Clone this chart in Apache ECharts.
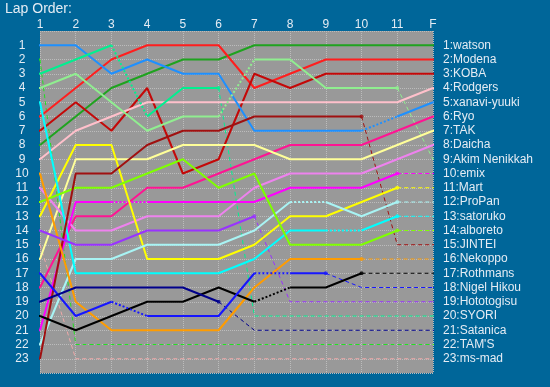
<!DOCTYPE html>
<html><head><meta charset="utf-8">
<script src="https://cdn.jsdelivr.net/npm/echarts@6/dist/echarts.min.js"></script>
<style>html,body{margin:0;padding:0;background:#006699}#c{width:550px;height:387px}</style>
</head><body><div id="c"></div>
<script>
// ---- data ----
const lapLabels = ['1','2','3','4','5','6','7','8','9','10','11','F'];
const drivers = ['watson','Modena','KOBA','Rodgers','xanavi-yuuki','Ryo','TAK','Daicha','Akim Nenikkah','emix','Mart','ProPan','satoruko','alboreto','JINTEI','Nekoppo','Rothmans','Nigel Hikou','Hototogisu','SYORI','Satanica',"TAM'S",'ms-mad'];
const colors = ['#1fa31f','#ff1e1e','#c40808','#ffc0cb','#1e90ff','#ff1493','#ffff99','#ee82ee','#90ee90','#ff00ff','#ffff00','#a8f4f4','#00ffff','#7fff00','#a01010','#ff9c00','#000000','#1616ff','#9933ff','#00f090','#00008c','#22e022','#f0a8a8'];
// position at laps 1..11 and F
const positions = [
  [8,6,4,3,2,2,1,1,1,1,1,1],
  [6,4,2,1,1,1,4,3,2,2,2,2],
  [7,5,7,4,10,9,3,4,3,3,3,3],
  [9,7,6,5,5,5,5,5,5,5,5,4],
  [1,1,3,2,3,3,7,7,7,7,6,5],
  [18,13,13,11,11,10,9,8,8,8,7,6],
  [16,9,9,9,8,8,8,9,9,9,8,7],
  [11,14,14,13,13,13,11,10,10,10,9,8],
  [4,3,5,7,6,6,2,2,4,4,4,9],
  [21,12,12,12,12,12,12,11,11,11,10,10],
  [13,8,8,16,16,16,15,13,13,12,11,11],
  [22,16,16,15,15,15,14,12,12,13,12,12],
  [5,17,17,17,17,17,16,14,14,14,13,13],
  [12,11,11,10,9,11,10,15,15,15,14,14],
  [23,10,10,8,7,7,6,6,6,6,15,15],
  [10,19,21,21,21,21,18,16,16,16,16,16],
  [20,21,20,19,19,18,19,18,18,17,17,17],
  [17,20,19,20,20,20,17,17,17,18,18,18],
  [14,15,15,14,14,14,13,19,19,19,19,19],
  [3,2,1,6,4,4,20,20,20,20,20,20],
  [19,18,18,18,18,19,21,21,21,21,21,21],
  [2,22,22,22,22,22,22,22,22,22,22,22],
  [15,23,23,23,23,23,23,23,23,23,23,23]
];
// segment styles between consecutive laps: s = running, d = pit, x = retired / lapped
const segStyles = [
  'sssssssssss','sssssssssss','sssssssssss','sssssssssss','sssssssssds',
  'sssssssssss','sssssssssss','sssssssssss','sssssdssssx','ssdsssssssx',
  'ssssssssssx','sssssssdssx','ssssssssdsx','ssssssssssx','sssssssssxx',
  'sssssssssxx','ssssssdssxx','ssdsssdsxxx','ssssssxxxxx','ssdssxxxxxx',
  'sssssxxxxxx','xxxxxxxxxxx','xxxxxxxxxxx'
];

// ---- chart ----
const FONT = 'Liberation Sans, Arial, sans-serif';
const TXT = '#e4ecf4';
const STUB_L = 0.83, STUB_R = 12.22;
const styleMap = {s:{width:2,type:'solid'}, d:{width:2,type:[2,2]}, x:{width:1,type:[4,3]}};
const series = [];
const markers = [];
drivers.forEach((name, i) => {
  const pos = positions[i], st = segStyles[i], col = colors[i];
  const mk = (data, s) => ({
    type:'line', data, symbol:'none', clip:false, silent:true, animation:false,
    z: s === 'x' ? 2 : 3,
    lineStyle:{color:col, width:styleMap[s].width, type:styleMap[s].type}
  });
  series.push(mk([[STUB_L, pos[0]], [1, pos[0]]], 's'));
  let start = 0;
  for (let k = 1; k <= st.length; k++) {
    if (k === st.length || st[k] !== st[start]) {
      const data = [];
      for (let j = start; j <= k; j++) data.push([j + 1, pos[j]]);
      series.push(mk(data, st[start]));
      start = k;
    }
  }
  series.push(mk([[12, pos[11]], [STUB_R, pos[11]]], st[st.length - 1]));
  const xi = st.indexOf('x');
  if (xi > 0) markers.push({value:[xi + 1, pos[xi]], itemStyle:{color:col}});
});
series.push({type:'scatter', data:markers, symbol:'circle', symbolSize:4, z:4, silent:true, animation:false});

const finalName = v => {
  const idx = positions.findIndex(p => p[11] === v);
  return idx >= 0 ? v + ':' + drivers[idx] : '';
};

const chart = echarts.init(document.getElementById('c'));
chart.setOption({
  backgroundColor:'#006699',
  animation:false,
  title:{text:'Lap Order:', left:5, top:2, padding:0, textStyle:{color:TXT, fontSize:14, fontWeight:'normal', fontFamily:FONT}},
  grid:{left:40, right:117, top:31, bottom:14, show:true, backgroundColor:'#999999', borderWidth:0},
  xAxis:{type:'value', min:1, max:12, interval:1, position:'top',
    axisLine:{show:false}, axisTick:{show:false},
    axisLabel:{color:TXT, fontSize:12, fontFamily:FONT, margin:0, showMinLabel:true, showMaxLabel:true, formatter:v => lapLabels[v - 1]},
    splitLine:{show:true, lineStyle:{color:'#bcbcbc', type:'dotted', width:1}}},
  yAxis:[
    {type:'value', inverse:true, min:0, max:24, interval:1,
      axisLine:{show:false}, axisTick:{show:false},
      axisLabel:{color:TXT, fontSize:12, fontFamily:FONT, align:'center', margin:18, formatter:v => (v >= 1 && v <= 23) ? String(v) : ''},
      splitLine:{show:true, lineStyle:{color:'#bcbcbc', type:'dotted', width:1}}},
    {type:'value', inverse:true, min:0, max:24, interval:1, position:'right',
      axisLine:{show:false}, axisTick:{show:false}, splitLine:{show:false},
      axisLabel:{color:TXT, fontSize:12, fontFamily:FONT, align:'left', margin:10, formatter:v => (v >= 1 && v <= 23) ? finalName(v) : ''}}
  ],
  series
});
</script></body></html>
